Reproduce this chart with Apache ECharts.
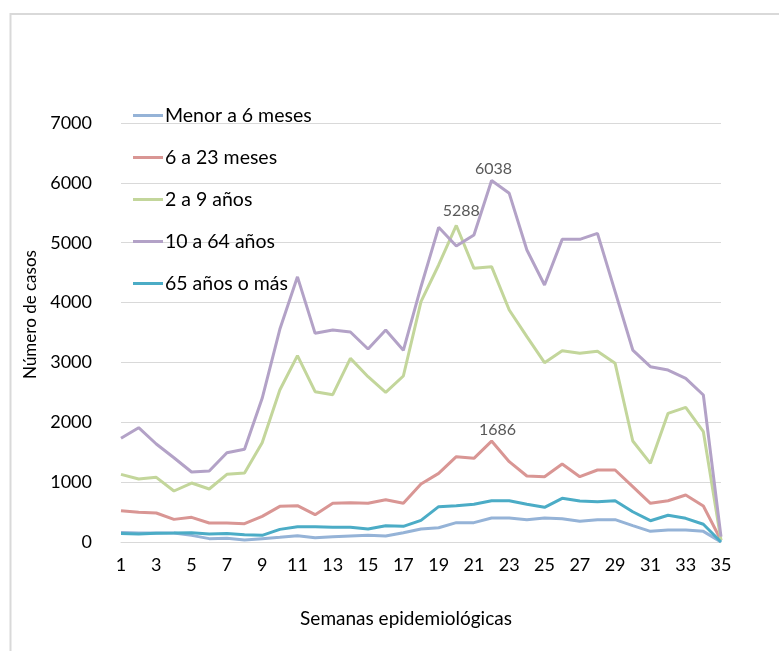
<!DOCTYPE html>
<html>
<head>
<meta charset="utf-8">
<script src="https://cdn.jsdelivr.net/npm/echarts@6/dist/echarts.min.js"></script>
<style>
  html, body { margin: 0; padding: 0; background: #fff; }
  #chart { width: 779px; height: 651px; }
</style>
</head>
<body>
<div id="chart"></div>
<script>
// Weeks 1..35
const weeks = Array.from({ length: 35 }, (_, i) => String(i + 1));

const seriesNames = ["Menor a 6 meses", "6 a 23 meses", "2 a 9 años", "10 a 64 años", "65 años o más"];

const menor6m = [160, 150, 150, 150, 111, 56, 64, 33, 56, 78, 106, 72, 89, 100, 111, 100, 156, 217, 239, 323,
  323, 401, 401, 373, 401, 390, 346, 373, 373, 273, 178, 200, 200, 178, 0];
const m6a23 = [523, 496, 484, 378, 412, 317, 317, 306, 429, 596, 607, 456, 646, 657, 646, 707, 646, 969, 1147, 1425,
  1398, 1686, 1342, 1103, 1091, 1303, 1091, 1203, 1203, 924, 646, 690, 785, 601, 30];
const a2a9 = [1130, 1052, 1080, 852, 985, 885, 1130, 1152, 1659, 2539, 3113, 2511, 2461, 3068, 2762, 2501, 2773, 4015, 4628, 5288,
  4572, 4600, 3876, 3430, 2996, 3196, 3152, 3185, 2985, 1687, 1314, 2150, 2250, 1843, 30];
const a10a64 = [1733, 1910, 1637, 1408, 1169, 1186, 1492, 1548, 2400, 3553, 4430, 3486, 3542, 3508, 3224, 3542, 3202, 4265, 5257, 4945,
  5129, 6038, 5825, 4878, 4293, 5056, 5056, 5157, 4182, 3207, 2929, 2873, 2735, 2456, 90];
const a65mas = [140, 134, 145, 150, 156, 134, 140, 123, 111, 211, 256, 256, 245, 245, 217, 273, 262, 362, 590, 607,
  630, 690, 690, 630, 579, 730, 685, 674, 690, 506, 356, 446, 396, 296, 0];

const colors = ["#95b3d7", "#d99694", "#c3d69b", "#b3a2c7", "#4bacc6"];

// which point of each series carries a value label (index or -1)
const labelIdx = [-1, 21, 19, 21, -1];
// nudges so the labels sit where Excel put them
const labelOffset = [null, [6, 4], [5, 0], [2, 3], null];

const FONT = "Lato";

function withLabel(values, idx, offset) {
  return values.map((v, i) => i === idx
    ? { value: v, label: { show: true, position: "top", distance: 7, offset: offset, color: "#595959", fontSize: 16, fontFamily: FONT } }
    : v);
}

const chart = echarts.init(document.getElementById("chart"));

chart.setOption({
  animation: false,
  backgroundColor: "#fff",
  grid: { left: 121, right: 58, top: 123, bottom: 109 },
  graphic: [{
    type: "rect",
    shape: { x: 10.5, y: 14, width: 820, height: 700 },
    style: { fill: "none", stroke: "#d9d9d9", lineWidth: 2 },
    silent: true,
  }],
  legend: {
    orient: "vertical",
    left: 128,
    top: 100,
    itemWidth: 30,
    itemHeight: 3,
    itemGap: 21,
    icon: "rect",
    data: seriesNames,
    textStyle: { fontFamily: FONT, fontSize: 19.5, color: "#000", lineHeight: 21, padding: [0, 0, 0, -3] },
  },
  xAxis: {
    type: "category",
    data: weeks,
    boundaryGap: false,
    name: "Semanas epidemiológicas",
    nameLocation: "middle",
    nameGap: 67,
    nameTextStyle: { fontFamily: FONT, fontSize: 19, color: "#000", padding: [0, 30, 0, 0] },
    axisLine: { lineStyle: { color: "#d9d9d9", width: 1 } },
    axisTick: { show: false },
    axisLabel: { interval: 1, margin: 14, fontFamily: FONT, fontSize: 18, color: "#000" },
  },
  yAxis: {
    type: "value",
    min: 0,
    max: 7000,
    interval: 1000,
    name: "Número de casos",
    nameLocation: "middle",
    nameGap: 80,
    nameTextStyle: { fontFamily: FONT, fontSize: 17, color: "#000", padding: [0, 0, 0, 36] },
    axisLine: { show: false },
    axisTick: { show: false },
    axisLabel: { margin: 29, fontFamily: FONT, fontSize: 18, color: "#000", formatter: (v) => String(v) },
    splitLine: { lineStyle: { color: "#d9d9d9", width: 1 } },
  },
  series: [menor6m, m6a23, a2a9, a10a64, a65mas].map((vals, k) => ({
    name: seriesNames[k],
    type: "line",
    data: withLabel(vals, labelIdx[k], labelOffset[k]),
    color: colors[k],
    symbol: "circle",
    symbolSize: 0,
    showSymbol: true,
    showAllSymbol: true,
    lineStyle: { width: 3, color: colors[k] },
    z: k === 0 ? 1 : 2 + k,
  })),
});
</script>
</body>
</html>
